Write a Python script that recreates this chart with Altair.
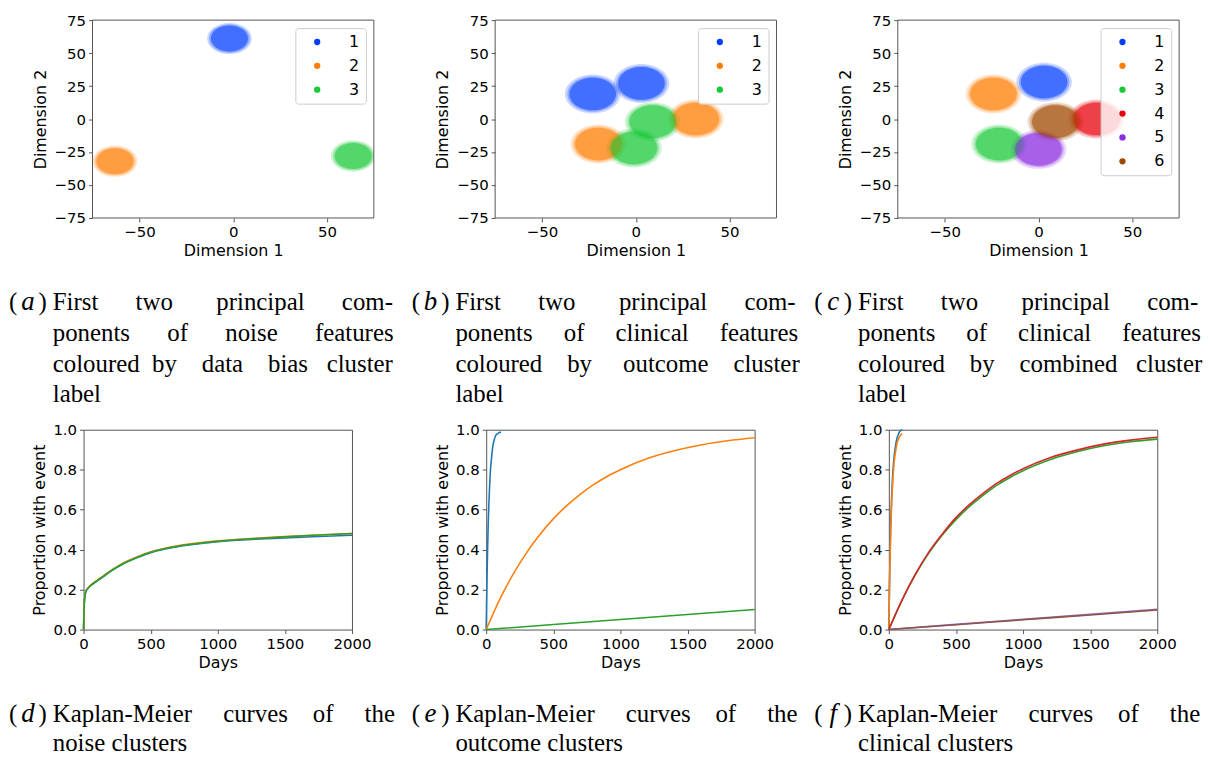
import altair as alt
import pandas as pd

# ---------------- data ----------------
# (a) first two PCs of noise features, coloured by data-bias cluster (cluster centres)
A_LABEL = ["1", "2", "3"]
A_X = [-2, -63, 64]
A_Y = [61, -32, -28]

# (b) clinical features, coloured by outcome cluster (two sub-blobs per label)
B_LABEL = ["1", "1", "2", "2", "3", "3"]
B_X = [-23, 3, 32, -20, 9, -1]
B_Y = [19, 27, 0, -19, -2, -22]

# (c) clinical features, coloured by combined cluster
C_LABEL = ["1", "2", "3", "4", "5", "6"]
C_X = [3, -24, -21, 31, 0, 9]
C_Y = [28, 19, -19, 0, -23, -2]

# (d) Kaplan-Meier curves of the noise clusters
D_DAYS = [0, 3, 6, 10, 15, 20, 30, 50, 100, 150, 200, 250, 300, 400, 500, 600, 700, 800,
          1000, 1250, 1500, 1750, 2000]
D_1 = [0, .09, .14, .168, .185, .195, .203, .217, .242, .266, .29, .311, .33, .36, .385, .402,
       .415, .425, .44, .451, .459, .466, .472]
D_2 = [0, .09, .14, .168, .186, .196, .205, .22, .246, .27, .294, .315, .334, .364, .389, .406,
       .419, .429, .444, .456, .465, .473, .48]
D_3 = [0, .085, .138, .167, .185, .195, .204, .219, .244, .268, .292, .313, .332, .362, .387,
       .404, .417, .427, .442, .454, .464, .473, .481]

# (e) Kaplan-Meier curves of the outcome clusters
FAST_DAYS = [0, 3, 6, 10, 15, 20, 25, 30, 40, 50, 60, 70, 80, 90, 100, 110]
E_1 = [0, .14, .26, .39, .53, .63, .71, .78, .86, .92, .95, .97, .978, .983, .986, .988]
SLOW_DAYS = [0, 100, 200, 300, 400, 500, 600, 700, 800, 900, 1000, 1200, 1400, 1600, 1800, 2000]
E_2 = [0, .15, .276, .384, .476, .554, .62, .677, .725, .766, .80, .856, .895, .924, .945, .96]
LIN_DAYS = [0, 500, 1000, 1500, 2000]
E_3 = [0, .025, .05, .075, .10]

# (f) Kaplan-Meier curves of the clinical clusters
F_FAST_DAYS = [0, 3, 6, 10, 15, 20, 30, 40, 50, 60, 70, 80, 90, 100]
F_1 = [0, .14, .27, .41, .55, .65, .79, .87, .92, .955, .975, .99, .997, 1.0]
F_2 = [0, .13, .25, .38, .51, .61, .75, .84, .89, .93, .95, .965, .975, .98]
F_3 = [0, .15, .278, .385, .474, .55, .615, .67, .72, .76, .795, .85, .89, .92, .94, .953]
F_4 = [0, .15, .28, .39, .48, .56, .625, .68, .73, .77, .805, .86, .898, .928, .948, .962]
F_5 = [0, .026, .051, .076, .101]
F_6 = [0, .024, .049, .073, .098]

SCATTER_TICKS_X = [-50, 0, 50]
SCATTER_TICKS_Y = [-75, -50, -25, 0, 25, 50, 75]
KM_TICKS_X = [0, 500, 1000, 1500, 2000]
KM_TICKS_Y = [0.0, 0.2, 0.4, 0.6, 0.8, 1.0]

# ---------------- styling ----------------
FONT = "DejaVu Sans"
SERIF = "Liberation Serif"
FRAME = "#555555"
BRIGHT = ["#023eff", "#ff7c00", "#1ac938", "#e8000b", "#8b2be2", "#9f4800"]
TAB10 = ["#1f77b4", "#ff7f0e", "#2ca02c", "#d62728", "#9467bd", "#8c564b"]
ELLIPSE = "M -1 0 A 1 0.7 0 1 0 1 0 A 1 0.7 0 1 0 -1 0 Z"
NB = "\u00a0"
ONE = pd.DataFrame({"k": [0]})
SHIFT = 9          # scatter plot area starts 9px right of the KM plot area in each column
SW, SH = 283, 199  # scatter plot area
KW, KH = 270, 201  # KM plot area


def J(words, gaps):
    out = words[0]
    for w, g in zip(words[1:], gaps):
        out += NB * g + w
    return out


def caption_layers(letter, lines, base, pitch):
    out = []
    common = dict(font=SERIF, fontSize=25, baseline="alphabetic", color="black")
    out.append(alt.Chart(ONE).mark_text(align="left", text="(", **common).encode(
        x=alt.value(-75), y=alt.value(base)))
    lc = dict(common)
    lc["fontSize"] = 27
    out.append(alt.Chart(ONE).mark_text(align="center", fontStyle="italic", text=letter,
                                        **lc).encode(x=alt.value(-56), y=alt.value(base)))
    out.append(alt.Chart(ONE).mark_text(align="right", text=")", **common).encode(
        x=alt.value(-37), y=alt.value(base)))
    for i, line in enumerate(lines):
        out.append(alt.Chart(ONE).mark_text(align="left", text=line, **common).encode(
            x=alt.value(-31), y=alt.value(base + i * pitch)))
    return out


def scatter(labels, xs, ys, sizes, letter, lines):
    df = pd.DataFrame({"cluster": labels, "x": xs, "y": ys})
    dom = sorted(set(labels))
    color = alt.Color(
        "cluster:N",
        scale=alt.Scale(domain=dom, range=BRIGHT[: len(dom)]),
        legend=alt.Legend(
            title=None, orient="top-right", offset=8,
            fillColor="rgba(255,255,255,0.8)", strokeColor="#cccccc", cornerRadius=3,
            padding=6, symbolType="circle", symbolSize=40, symbolOpacity=1,
            symbolStrokeWidth=0, symbolOffset=8, labelFont=FONT, labelFontSize=16,
            labelColor="black", labelOffset=24, rowPadding=8,
        ),
    )
    x = alt.X("x:Q", scale=alt.Scale(domain=[-75, 75], range=[SHIFT, SHIFT + SW], nice=False),
              axis=alt.Axis(values=SCATTER_TICKS_X, format="d", title="Dimension 1"))
    y = alt.Y("y:Q", scale=alt.Scale(domain=[-75, 75], nice=False),
              axis=alt.Axis(values=SCATTER_TICKS_Y, format="d", title="Dimension 2",
                            offset=-SHIFT, titlePadding=6))
    base = alt.Chart(df).encode(x=x, y=y, color=color)
    outer, mid, core = sizes
    blobs = [
        base.mark_point(shape=ELLIPSE, filled=True, size=outer, opacity=0.2, strokeWidth=0,
                        clip=True),
        base.mark_point(shape=ELLIPSE, filled=True, size=mid, opacity=0.3, strokeWidth=0,
                        clip=True),
        base.mark_point(shape=ELLIPSE, filled=True, size=core, opacity=0.55, strokeWidth=0,
                        clip=True),
    ]
    frame = alt.Chart(ONE).mark_rect(fillOpacity=0, stroke=FRAME, strokeWidth=1).encode(
        x=alt.value(SHIFT), x2=alt.value(SHIFT + SW), y=alt.value(0), y2=alt.value(SH))
    layers = blobs + [frame] + caption_layers(letter, lines, 291.7, 30.9)
    return alt.layer(*layers).properties(width=SHIFT + SW, height=SH)


def km(series, letter, lines):
    rows = []
    for name, days, vals in series:
        for d, v in zip(days, vals):
            rows.append({"cluster": name, "day": d, "p": v})
    df = pd.DataFrame(rows)
    dom = [s[0] for s in series]
    lines_chart = alt.Chart(df).mark_line(strokeWidth=1.6, interpolate="monotone").encode(
        x=alt.X("day:Q", scale=alt.Scale(domain=[0, 2000], nice=False),
                axis=alt.Axis(values=KM_TICKS_X, format="d", title="Days")),
        y=alt.Y("p:Q", scale=alt.Scale(domain=[0, 1], nice=False),
                axis=alt.Axis(values=KM_TICKS_Y, format=".1f", title="Proportion with event",
                              titlePadding=5)),
        color=alt.Color("cluster:N", scale=alt.Scale(domain=dom, range=TAB10[: len(dom)]),
                        legend=None),
    )
    layers = [lines_chart] + caption_layers(letter, lines, 293.7, 29.3)
    return alt.layer(*layers).properties(
        width=KW, height=KH, view=alt.ViewBackground(stroke=FRAME, strokeWidth=1))


L1 = J(["First", "two", "principal", "com-"], [6, 7, 6])
L2N = J(["ponents", "of", "clinical", "features"], [5, 5, 5])
KM1 = J(["Kaplan-Meier", "curves", "of", "the"], [5, 4, 5])

SIZE_A = (2025, 1700, 1400)
SIZE_BC = (3136, 2600, 2200)

sa = scatter(A_LABEL, A_X, A_Y, SIZE_A, "a",
             [L1, J(["ponents", "of", "noise", "features"], [6, 6, 6]),
              J(["coloured", "by", "data", "bias", "cluster"], [2, 4, 4, 3]), "label"])
sb = scatter(B_LABEL, B_X, B_Y, SIZE_BC, "b",
             [L1, L2N, J(["coloured", "by", "outcome", "cluster"], [4, 5, 4]), "label"])
sc = scatter(C_LABEL, C_X, C_Y, SIZE_BC, "c",
             [L1, L2N, J(["coloured", "by", "combined", "cluster"], [4, 4, 3]), "label"])

kd = km([("1", D_DAYS, D_1), ("2", D_DAYS, D_2), ("3", D_DAYS, D_3)], "d",
        [KM1, "noise clusters"])
ke = km([("1", FAST_DAYS, E_1), ("2", SLOW_DAYS, E_2), ("3", LIN_DAYS, E_3)], "e",
        [KM1, "outcome clusters"])
kf = km([("1", F_FAST_DAYS, F_1), ("2", F_FAST_DAYS, F_2), ("3", SLOW_DAYS, F_3),
         ("4", SLOW_DAYS, F_4), ("5", LIN_DAYS, F_5), ("6", LIN_DAYS, F_6)], "f",
        [KM1, "clinical clusters"])

chart = alt.concat(
    sa, sb, sc, kd, ke, kf, columns=3, bounds="flush",
    spacing={"row": 431 - 19 - SH, "column": 405 - (SHIFT + SW)},
).resolve_scale(color="independent").properties(
    padding={"left": 0, "top": 3, "right": 0, "bottom": 0}
).configure_view(stroke=None).configure_axis(
    labelFont=FONT, titleFont=FONT, labelFontSize=15, titleFontSize=16,
    labelColor="black", titleColor="black", titleFontWeight="normal",
    tickColor=FRAME, tickSize=4, tickWidth=1, domain=False, grid=False,
    labelPadding=3, titlePadding=3, labelFlush=False,
)

chart.save("out.html", embed_options={"renderer": "svg", "actions": False})
